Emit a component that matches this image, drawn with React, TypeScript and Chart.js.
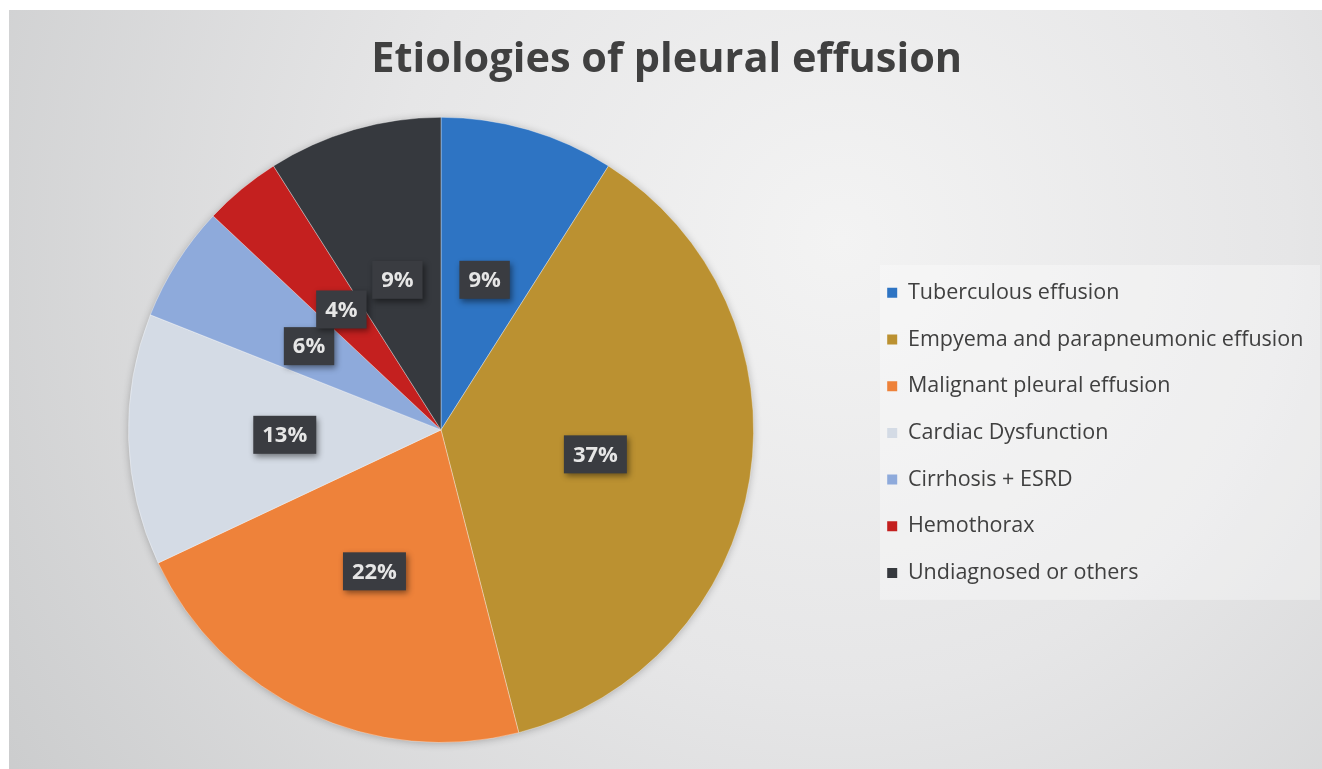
import React, { useEffect, useRef } from "react";
import { Chart, registerables } from "chart.js";

Chart.register(...registerables);

const TITLE = "Etiologies of pleural effusion";
const categories = [
  "Tuberculous effusion",
  "Empyema and parapneumonic effusion",
  "Malignant pleural effusion",
  "Cardiac Dysfunction",
  "Cirrhosis + ESRD",
  "Hemothorax",
  "Undiagnosed or others",
];
const percentages = [9, 37, 22, 13, 6, 4, 9];
const sliceColors = ["#2e74c3", "#bb9131", "#ee823a", "#d4dbe5", "#8eaadb", "#c4201f", "#36393e"];

const W = 1322;
const H = 769;
const FONT = "'Open Sans', 'DejaVu Sans', sans-serif";
const LEGEND_FONT = 21.5;
const LEGEND_PAD = 25.2;
const BOX = 10;
const PAD_LEFT = 20;
const AREA_RIGHT = 862;

const backgroundPlugin = {
  id: "bgPanel",
  beforeDraw(chart: any) {
    const ctx = chart.ctx;
    ctx.save();
    ctx.fillStyle = "#ffffff";
    ctx.fillRect(0, 0, W, H);
    const g = ctx.createRadialGradient(840, 240, 0, 840, 240, 1000);
    g.addColorStop(0, "#f3f3f3");
    g.addColorStop(0.45, "#e6e6e7");
    g.addColorStop(1, "#cbcccd");
    ctx.fillStyle = g;
    ctx.fillRect(9, 10, W - 9, H - 10);
    const lg = chart.legend;
    if (lg) {
      const ca = chart.chartArea;
      const cy = (ca.top + ca.bottom) / 2;
      ctx.fillStyle = "rgba(255,255,255,0.32)";
      ctx.fillRect(lg.left + 18, cy - 165, W - 2 - (lg.left + 18), 335);
    }
    ctx.restore();
  },
  beforeDatasetsDraw(chart: any) {
    const arc = chart.getDatasetMeta(0).data[0];
    if (!arc) return;
    const ctx = chart.ctx;
    ctx.save();
    ctx.shadowColor = "rgba(0,0,0,0.3)";
    ctx.shadowBlur = 8;
    ctx.shadowOffsetX = 0;
    ctx.shadowOffsetY = 1;
    ctx.fillStyle = "#cccccc";
    ctx.beginPath();
    ctx.arc(arc.x, arc.y, arc.outerRadius - 1, 0, Math.PI * 2);
    ctx.fill();
    ctx.restore();
  },
};

const labelPlugin = {
  id: "boxLabels",
  afterDatasetsDraw(chart: any) {
    const meta = chart.getDatasetMeta(0);
    const ctx = chart.ctx;
    meta.data.forEach((arc: any, i: number) => {
      const { x, y } = arc.getCenterPoint();
      const text = percentages[i] + "%";
      ctx.save();
      ctx.font = `bold 22px ${FONT}`;
      const w = ctx.measureText(text).width + 18;
      const h = 38;
      ctx.shadowColor = "rgba(0,0,0,0.45)";
      ctx.shadowBlur = 6;
      ctx.shadowOffsetX = 2;
      ctx.shadowOffsetY = 3;
      ctx.fillStyle = "#3a3c41";
      ctx.fillRect(x - w / 2, y - h / 2, w, h);
      ctx.shadowColor = "transparent";
      ctx.fillStyle = "#e6e6e6";
      ctx.textAlign = "center";
      ctx.textBaseline = "middle";
      ctx.fillText(text, x, y + 1);
      ctx.restore();
    });
  },
};

export default function App() {
  const ref = useRef<HTMLCanvasElement>(null);
  useEffect(() => {
    if (!ref.current) return;
    const m = document.createElement("canvas").getContext("2d")!;
    m.font = `${LEGEND_FONT}px ${FONT}`;
    const tw = Math.max(...categories.map((c) => m.measureText(c).width));
    const legendWidth = LEGEND_PAD + BOX + LEGEND_FONT / 2 + tw + 10;
    const padRight = Math.max(0, W - AREA_RIGHT - legendWidth);

    const chart = new Chart(ref.current, {
      type: "pie",
      data: {
        labels: categories,
        datasets: [
          {
            data: percentages,
            backgroundColor: sliceColors,
            borderWidth: 1,
            borderColor: "rgba(255,255,255,0.35)",
          },
        ],
      },
      options: {
        responsive: false,
        animation: false,
        layout: { padding: { left: PAD_LEFT, right: padRight, top: 0, bottom: 26 } },
        plugins: {
          title: {
            display: true,
            text: TITLE,
            color: "#404040",
            font: { family: FONT, size: 41.5, weight: "bold" },
            padding: { top: 35, bottom: 32 },
          },
          legend: {
            position: "right",
            fullSize: false,
            title: { display: true, text: " ", font: { size: 5 }, padding: 0 },
            labels: {
              color: "#404040",
              font: { family: FONT, size: LEGEND_FONT },
              boxWidth: BOX,
              boxHeight: BOX,
              padding: LEGEND_PAD,
              generateLabels: () =>
                categories.map((t, i) => ({
                  text: t,
                  fillStyle: sliceColors[i],
                  strokeStyle: sliceColors[i],
                  lineWidth: 0,
                  hidden: false,
                  index: i,
                  fontColor: "#404040",
                })),
            },
          },
          tooltip: { enabled: false },
        },
      },
      plugins: [backgroundPlugin, labelPlugin],
    });
    return () => chart.destroy();
  }, []);
  return (
    <div style={{ position: "fixed", left: 0, top: 0, width: "100vw", height: "100vh", background: "#cfd0d1" }}>
      <canvas ref={ref} width={W} height={H} style={{ display: "block" }} />
    </div>
  );
}
